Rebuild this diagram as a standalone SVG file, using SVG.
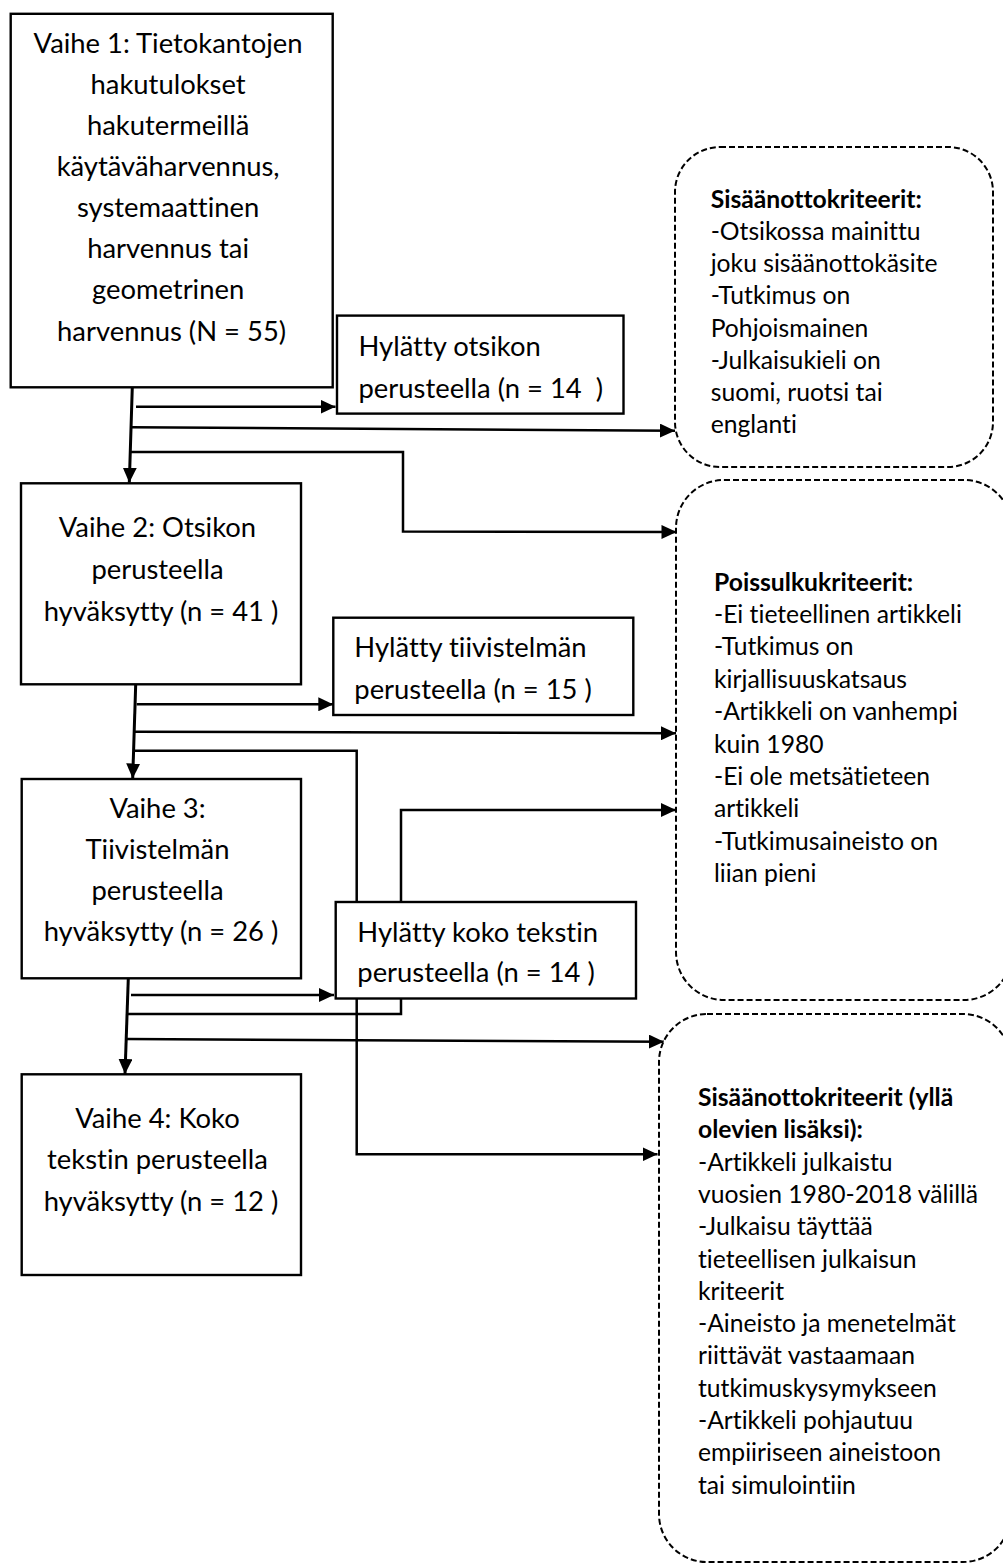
<svg xmlns="http://www.w3.org/2000/svg" width="1003" height="1564" viewBox="0 0 1003 1564">
<style>
.box{fill:#fff;stroke:#000;stroke-width:2.4}
.crit{fill:#fff;stroke:#000;stroke-width:2;stroke-dasharray:6 3}
text{font-variant-ligatures:none;font-feature-settings:"liga" 0,"clig" 0}
.t{font-family:Lato,"Liberation Sans",sans-serif;font-size:27.4px;fill:#000}
.tc{text-anchor:middle}
.c{font-family:Lato,"Liberation Sans",sans-serif;font-size:24.7px;fill:#000}
.b{font-weight:bold}
.ln{fill:none;stroke:#000;stroke-width:2.5}
.tr{fill:none;stroke:#000;stroke-width:3}
</style>
<defs>
<marker id="ah" markerUnits="userSpaceOnUse" markerWidth="15" markerHeight="14" refX="15" refY="7" orient="auto">
<path d="M0,0 L15,7 L0,14 z" fill="#000"/>
</marker>
</defs>
<g id="connectors">
<path class="tr" d="M132.3,387.3 L129.3,482.7" marker-end="url(#ah)"/>
<path class="ln" d="M136,406.7 L335.5,406.7" marker-end="url(#ah)"/>
<path class="ln" d="M131.5,427.3 L675,430.7" marker-end="url(#ah)"/>
<path class="ln" d="M130.5,452 L403,452 L403,531.5 L676.5,532" marker-end="url(#ah)"/>
<path class="tr" d="M135.7,684.3 L132.7,778.5" marker-end="url(#ah)"/>
<path class="ln" d="M136.7,704.3 L333.3,704.3" marker-end="url(#ah)"/>
<path class="ln" d="M134.5,731.7 L676,733.3" marker-end="url(#ah)"/>
<path class="ln" d="M133.5,750.7 L356.7,750.7 L356.7,1154.3 L657.5,1154.3" marker-end="url(#ah)"/>
<path class="tr" d="M128.3,978.3 L125,1074" marker-end="url(#ah)"/>
<path class="ln" d="M131,995 L334,995" marker-end="url(#ah)"/>
<path class="ln" d="M127.5,1014 L401,1014 L401,998.5"/>
<path class="ln" d="M126.5,1039 L664,1041.7" marker-end="url(#ah)"/>
<path class="ln" d="M401,902 L401,810 L676,810" marker-end="url(#ah)"/>
</g>
<g id="vaihe1">
<rect class="box" x="10.7" y="13.8" width="322" height="373.5"/>
<text class="t tc">
<tspan x="171.6" y="52.5">Vaihe 1: Tietokantojen</tspan>
<tspan x="171.6" y="93.6">hakutulokset</tspan>
<tspan x="171.6" y="134.8">hakutermeillä</tspan>
<tspan x="171.6" y="175.9">käytäväharvennus,</tspan>
<tspan x="171.6" y="217.1">systemaattinen</tspan>
<tspan x="171.6" y="258.2">harvennus tai</tspan>
<tspan x="171.6" y="299.4">geometrinen</tspan>
<tspan x="171.6" y="340.5">harvennus (N = 55)</tspan>
</text>
</g>
<g id="hylatty1">
<rect class="box" x="337" y="315.6" width="286.5" height="98"/>
<text class="t">
<tspan x="358.5" y="356">Hylätty otsikon</tspan>
<tspan x="358.5" y="397.6">perusteella (n = 14&#160; )</tspan>
</text>
</g>
<g id="vaihe2">
<rect class="box" x="21" y="483.3" width="280" height="201"/>
<text class="t tc">
<tspan x="161" y="537">Vaihe 2: Otsikon</tspan>
<tspan x="161" y="579">perusteella</tspan>
<tspan x="161" y="620.5">hyväksytty (n = 41 )</tspan>
</text>
</g>
<g id="hylatty2">
<rect class="box" x="333.3" y="617.7" width="300" height="97.3"/>
<text class="t">
<tspan x="354.3" y="656.7">Hylätty tiivistelmän</tspan>
<tspan x="354.3" y="699">perusteella (n = 15 )</tspan>
</text>
</g>
<g id="vaihe3">
<rect class="box" x="21.7" y="779" width="279.3" height="199.3"/>
<text class="t tc">
<tspan x="161" y="818.3">Vaihe 3:</tspan>
<tspan x="161" y="859">Tiivistelmän</tspan>
<tspan x="161" y="899.7">perusteella</tspan>
<tspan x="161" y="941.3">hyväksytty (n = 26 )</tspan>
</text>
</g>
<g id="hylatty3">
<rect class="box" x="335.7" y="902" width="300.3" height="96.5"/>
<text class="t">
<tspan x="357.3" y="941.7">Hylätty koko tekstin</tspan>
<tspan x="357.3" y="982.3">perusteella (n = 14 )</tspan>
</text>
</g>
<g id="vaihe4">
<rect class="box" x="21.7" y="1074.3" width="279.3" height="200.7"/>
<text class="t tc">
<tspan x="161" y="1128">Vaihe 4: Koko</tspan>
<tspan x="161" y="1169">tekstin perusteella</tspan>
<tspan x="161" y="1210.7">hyväksytty (n = 12 )</tspan>
</text>
</g>
<g id="sisaanotto1">
<rect class="crit" x="675" y="147" width="318" height="320" rx="45" ry="45"/>
<text class="c">
<tspan class="b" x="710.7" y="208">Sisäänottokriteerit:</tspan>
<tspan x="710.7" y="240.1">-Otsikossa mainittu</tspan>
<tspan x="710.7" y="272.3">joku sisäänottokäsite</tspan>
<tspan x="710.7" y="304.4">-Tutkimus on</tspan>
<tspan x="710.7" y="336.6">Pohjoismainen</tspan>
<tspan x="710.7" y="368.7">-Julkaisukieli on</tspan>
<tspan x="710.7" y="400.9">suomi, ruotsi tai</tspan>
<tspan x="710.7" y="433">englanti</tspan>
</text>
</g>
<g id="poissulku">
<rect class="crit" x="676" y="480" width="336" height="520" rx="48" ry="48"/>
<text class="c">
<tspan class="b" x="714" y="590.7">Poissulkukriteerit:</tspan>
<tspan x="714" y="623.1">-Ei tieteellinen artikkeli</tspan>
<tspan x="714" y="655.4">-Tutkimus on</tspan>
<tspan x="714" y="687.8">kirjallisuuskatsaus</tspan>
<tspan x="714" y="720.2">-Artikkeli on vanhempi</tspan>
<tspan x="714" y="752.5">kuin 1980</tspan>
<tspan x="714" y="784.9">-Ei ole metsätieteen</tspan>
<tspan x="714" y="817.3">artikkeli</tspan>
<tspan x="714" y="849.7">-Tutkimusaineisto on</tspan>
<tspan x="714" y="882">liian pieni</tspan>
</text>
</g>
<g id="sisaanotto2">
<rect class="crit" x="659" y="1014" width="352" height="548" rx="48" ry="48"/>
<text class="c">
<tspan class="b" x="698" y="1106">Sisäänottokriteerit (yllä</tspan>
<tspan class="b" x="698" y="1138.3">olevien lisäksi):</tspan>
<tspan x="698" y="1170.6">-Artikkeli julkaistu</tspan>
<tspan x="698" y="1202.9">vuosien 1980-2018 välillä</tspan>
<tspan x="698" y="1235.2">-Julkaisu täyttää</tspan>
<tspan x="698" y="1267.5">tieteellisen julkaisun</tspan>
<tspan x="698" y="1299.8">kriteerit</tspan>
<tspan x="698" y="1332.1">-Aineisto ja menetelmät</tspan>
<tspan x="698" y="1364.4">riittävät vastaamaan</tspan>
<tspan x="698" y="1396.7">tutkimuskysymykseen</tspan>
<tspan x="698" y="1429">-Artikkeli pohjautuu</tspan>
<tspan x="698" y="1461.3">empiiriseen aineistoon</tspan>
<tspan x="698" y="1493.6">tai simulointiin</tspan>
</text>
</g>
</svg>
